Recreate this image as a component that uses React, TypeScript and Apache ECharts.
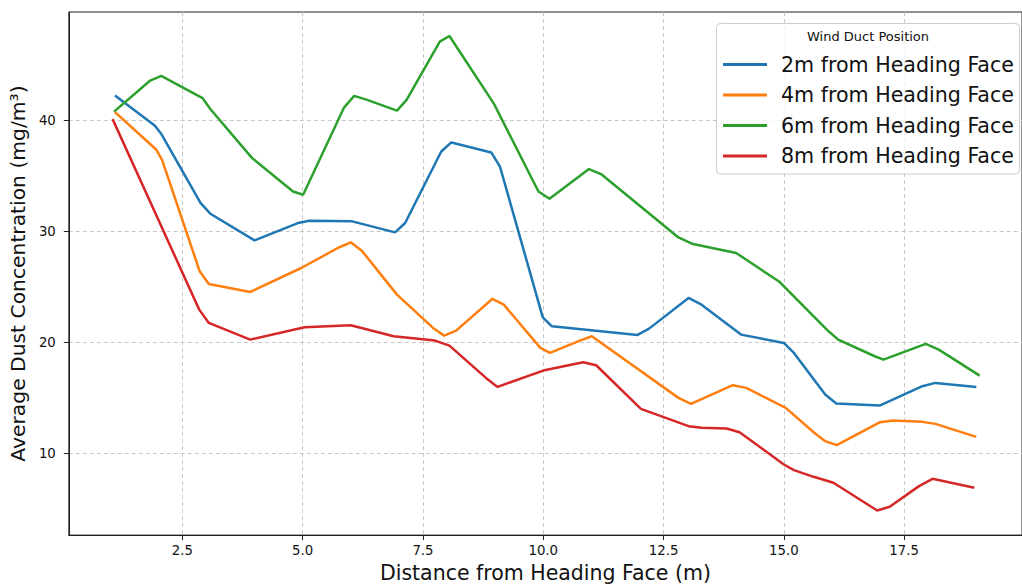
import React, { useEffect, useRef } from "react";
import * as echarts from "echarts";

const seriesNames = [
  "2m from Heading Face",
  "4m from Heading Face",
  "6m from Heading Face",
  "8m from Heading Face",
];
const colors = ["#1f77b4", "#ff7f0e", "#2ca02c", "#d62728"];

const blueX = [1.10, 1.93, 2.07, 2.88, 3.09, 4.00, 4.90, 5.14, 6.03, 6.92, 7.13, 7.88, 8.09, 8.92, 9.10, 9.99, 10.18, 11.96, 12.20, 13.02, 13.29, 14.11, 15.00, 15.21, 15.86, 16.09, 16.99, 17.88, 18.15, 19.00];
const blueY = [42.21, 39.49, 38.7, 32.53, 31.54, 29.17, 30.73, 30.94, 30.88, 29.89, 30.73, 37.17, 37.99, 37.09, 35.82, 22.24, 21.43, 20.65, 21.22, 23.98, 23.38, 20.68, 19.93, 19.03, 15.28, 14.47, 14.29, 16.03, 16.33, 15.97];

const orangeX = [1.10, 1.96, 2.08, 2.86, 3.05, 3.91, 4.97, 5.73, 6.00, 6.24, 6.96, 7.71, 7.94, 8.19, 8.94, 9.18, 9.94, 10.14, 10.76, 11.01, 12.81, 13.07, 13.94, 14.22, 15.04, 15.62, 15.86, 16.10, 17.00, 17.26, 17.88, 18.15, 19.00];
const orangeY = [40.72, 37.33, 36.4, 26.38, 25.24, 24.52, 26.68, 28.48, 28.99, 28.18, 24.28, 21.28, 20.59, 21.04, 23.89, 23.38, 19.48, 19.03, 20.14, 20.53, 14.98, 14.44, 16.12, 15.88, 14.08, 11.89, 11.08, 10.72, 12.79, 12.94, 12.82, 12.64, 11.47];

const greenX = [1.08, 1.82, 2.06, 2.92, 3.08, 3.95, 4.80, 5.01, 5.86, 6.07, 6.34, 6.96, 7.16, 7.85, 8.05, 8.98, 9.90, 10.13, 10.95, 11.20, 12.81, 13.09, 14.01, 14.90, 15.62, 15.93, 16.13, 16.89, 17.07, 17.95, 18.22, 19.07];
const greenY = [40.77, 43.53, 43.98, 41.98, 41.0, 36.58, 33.57, 33.28, 41.13, 42.18, 41.82, 40.86, 41.82, 47.07, 47.58, 41.44, 33.57, 32.92, 35.59, 35.14, 29.43, 28.87, 28.03, 25.47, 22.33, 20.98, 20.23, 18.73, 18.43, 19.84, 19.33, 16.99];

const redX = [1.05, 2.85, 3.05, 3.91, 5.04, 6.00, 6.89, 7.75, 8.05, 8.81, 9.05, 10.00, 10.83, 11.10, 12.03, 13.02, 13.29, 13.81, 14.08, 15.00, 15.21, 15.62, 16.03, 16.94, 17.20, 17.81, 18.09, 18.96];
const redY = [40.09, 22.93, 21.73, 20.23, 21.34, 21.52, 20.53, 20.14, 19.69, 16.78, 15.97, 17.44, 18.19, 17.92, 13.99, 12.43, 12.28, 12.22, 11.89, 8.98, 8.47, 7.87, 7.33, 4.84, 5.17, 7.03, 7.69, 6.88];

const xTicks = [2.5, 5.0, 7.5, 10.0, 12.5, 15.0, 17.5];
const yTicks = [10, 20, 30, 40];

const xTitle = "Distance from Heading Face (m)";
const yTitle = "Average Dust Concentration (mg/m³)";
const legendTitle = "Wind Duct Position";

const FONT = "DejaVu Sans";

function pairs(xs: number[], ys: number[]) {
  return xs.map((x, i) => [x, ys[i]]);
}

export default function App() {
  const ref = useRef<HTMLDivElement>(null);
  useEffect(() => {
    if (!ref.current) return;
    const chart = echarts.init(ref.current, null, { renderer: "svg" });
    const allData = [
      pairs(blueX, blueY),
      pairs(orangeX, orangeY),
      pairs(greenX, greenY),
      pairs(redX, redY),
    ];
    const xMin = 0.14, xMax = 19.95;
    const yMin = 2.62, yMax = 49.74;
    const axisColor = "#222";
    const gridLine = { show: true, lineStyle: { color: "#c8c8c8", type: [4, 3], width: 1 } };
    chart.setOption({
      animation: false,
      textStyle: { fontFamily: FONT },
      grid: {
        left: 67,
        top: 12,
        width: 964,
        height: 524,
        show: true,
        borderColor: axisColor,
        borderWidth: 1,
        backgroundColor: "transparent",
      },
      xAxis: {
        type: "value",
        min: xMin,
        max: xMax,
        minInterval: 2.5,
        maxInterval: 2.5,
        name: xTitle,
        nameLocation: "middle",
        nameGap: 15,
        nameTextStyle: { fontSize: 20.5, color: "#111", fontFamily: FONT },
        axisLine: { show: true, lineStyle: { color: axisColor, width: 1 } },
        axisTick: { show: true, length: 5, lineStyle: { color: axisColor }, customValues: xTicks },
        axisLabel: {
          fontSize: 13.3,
          color: "#111",
          margin: 9,
          fontFamily: FONT,
          customValues: xTicks,
          formatter: (v: number) => v.toFixed(1),
        },
        splitLine: gridLine,
      },
      yAxis: {
        type: "value",
        min: yMin,
        max: yMax,
        name: yTitle,
        nameLocation: "middle",
        nameGap: 34,
        nameTextStyle: { fontSize: 20.3, color: "#111", fontFamily: FONT },
        axisLine: { show: true, lineStyle: { color: axisColor, width: 1 } },
        axisTick: { show: true, length: 5, lineStyle: { color: axisColor }, customValues: yTicks },
        axisLabel: {
          fontSize: 13.3,
          color: "#111",
          margin: 13,
          fontFamily: FONT,
          customValues: yTicks,
          formatter: (v: number) => String(Math.round(v)),
        },
        splitLine: gridLine,
      },
      legend: {
        orient: "vertical",
        left: 723,
        top: 54,
        padding: 0,
        itemWidth: 44,
        itemHeight: 3,
        itemGap: 9.5,
        z: 10,
        icon: "rect",
        textStyle: { fontSize: 20.6, color: "#111", fontFamily: FONT, padding: [0, 0, 0, 9] },
        data: seriesNames,
      },
      graphic: [
        {
          type: "rect",
          z: 8,
          shape: { x: 716.5, y: 23.5, width: 303, height: 150.5, r: 4 },
          style: { fill: "rgba(255,255,255,0.8)", stroke: "#cccccc", lineWidth: 1 },
        },
        {
          type: "text",
          z: 9,
          x: 868,
          y: 36.7,
          style: {
            text: legendTitle,
            fontSize: 13,
            fontFamily: FONT,
            fill: "#111",
            align: "center",
            verticalAlign: "middle",
          },
        },
      ],
      series: allData.map((d, i) => ({
        name: seriesNames[i],
        type: "line",
        data: d,
        symbol: "none",
        showSymbol: false,
        color: colors[i],
        itemStyle: { color: colors[i] },
        lineStyle: { color: colors[i], width: 2.5 },
        z: 3,
      })),
    });
    return () => chart.dispose();
  }, []);
  return (
    <div
      ref={ref}
      style={{ position: "absolute", left: 0, top: 0, width: 1022, height: 588, background: "#fff" }}
    />
  );
}
